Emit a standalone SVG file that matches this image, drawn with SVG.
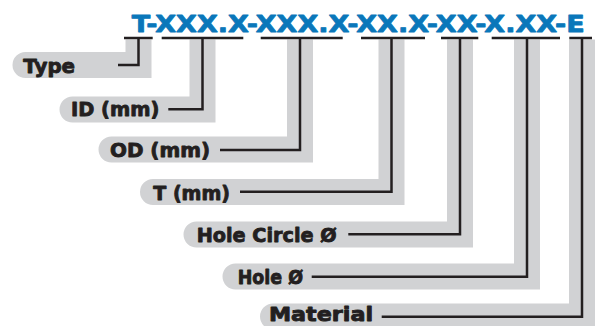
<svg xmlns="http://www.w3.org/2000/svg" width="596" height="326" viewBox="0 0 596 326">
<style>
.band{fill:#d1d2d4;}
.ln{fill:none;stroke:#231f20;stroke-width:2.5;stroke-linecap:butt;stroke-linejoin:miter;}
.lbl{font-family:"DejaVu Sans","Liberation Sans",sans-serif;font-weight:bold;font-size:20px;fill:#231f20;stroke:#231f20;stroke-width:0.9;stroke-linejoin:round;}
.code{font-family:"DejaVu Sans","Liberation Sans",sans-serif;font-weight:bold;font-size:23px;fill:#0a77ba;stroke:#0a77ba;stroke-width:0.8;stroke-linejoin:round;}
</style>
<rect width="596" height="326" fill="#ffffff"/>
<g id="bands">
<path class="band" d="M25.5,52 H125.5 V39.5 H151.5 V78 H25.5 A13,13 0 0 1 25.5,52 Z"/>
<path class="band" d="M72.5,96.5 H189.5 V39.5 H215.5 V122.5 H72.5 A13,13 0 0 1 72.5,96.5 Z"/>
<path class="band" d="M111.5,136.5 H287 V39.5 H313 V162.5 H111.5 A13,13 0 0 1 111.5,136.5 Z"/>
<path class="band" d="M153,179 H378.5 V39.5 H404.5 V205 H153 A13,13 0 0 1 153,179 Z"/>
<path class="band" d="M196.5,221.5 H447 V39.5 H473 V247.5 H196.5 A13,13 0 0 1 196.5,221.5 Z"/>
<path class="band" d="M235.5,263.5 H514 V39.5 H540 V289.5 H235.5 A13,13 0 0 1 235.5,263.5 Z"/>
<path class="band" d="M273,303.5 H569 V39.5 H595 V329.5 H273 A13,13 0 0 1 273,303.5 Z"/>
</g>
<g id="code">
<text class="code" x="131.7" y="31.7" textLength="453" lengthAdjust="spacingAndGlyphs">T-XXX.X-XXX.X-XX.X-XX-X.XX-E</text>
</g>
<g id="connectors">
<path class="ln" d="M124,38 H152.7 M161.7,38 H243.3 M260.7,38 H342.7 M361,38 H425 M441,38 H478.3 M491.7,38 H560 M569.3,38 H592"/>
<path class="ln" d="M118,65 H138.5 V38"/>
<path class="ln" d="M168.3,109.3 H202.5 V38"/>
<path class="ln" d="M220,150 H300 V38"/>
<path class="ln" d="M240,191.7 H391.5 V38"/>
<path class="ln" d="M348.3,234.3 H460 V38"/>
<path class="ln" d="M311.7,276.7 H527 V38"/>
<path class="ln" d="M381.7,316.7 H582 V38"/>
</g>
<g id="type"><text class="lbl" x="23.3" y="72.5" textLength="51.7" lengthAdjust="spacingAndGlyphs">Type</text></g>
<g id="id"><text class="lbl" x="71" y="115.8" textLength="88.3" lengthAdjust="spacingAndGlyphs">ID (mm)</text></g>
<g id="od"><text class="lbl" x="110" y="157" textLength="100" lengthAdjust="spacingAndGlyphs">OD (mm)</text></g>
<g id="t"><text class="lbl" x="153.3" y="199.5" textLength="76.7" lengthAdjust="spacingAndGlyphs">T (mm)</text></g>
<g id="holecircle"><text class="lbl" x="196.7" y="242" textLength="140" lengthAdjust="spacingAndGlyphs">Hole Circle Ø</text></g>
<g id="hole"><text class="lbl" x="237.7" y="284" textLength="65.3" lengthAdjust="spacingAndGlyphs">Hole Ø</text></g>
<g id="material"><text class="lbl" x="269" y="320.5" textLength="104" lengthAdjust="spacingAndGlyphs">Material</text></g>
</svg>
